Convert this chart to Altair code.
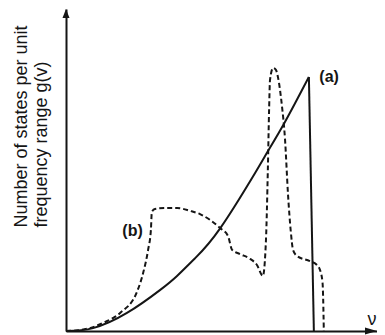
import altair as alt
import pandas as pd

# Curve (a): Debye-like curve, then vertical cut-off
a_nu = [0, 8.7, 19.6, 30.2, 35.7, 41.5, 49.5, 60.8, 64.9, 70.4, 78.1]
a_g = [0, 0.9, 5.6, 12.7, 17.1, 22.6, 31.8, 49.1, 55.8, 64.9, 78.9]
cut_nu = [78.1, 79.7]
cut_g = [78.9, 0]

# Curve (b): real crystal spectrum (dashed)
b_nu = [0, 4.5, 8.7, 11.9, 17.4, 22.8, 24.8, 26.4, 27.3, 27.6, 28.6, 31.8, 35.7,
        39.9, 43.1, 46.3, 49.5, 52.1, 53.4, 55.9, 59.2, 61.4, 63.3, 64.3, 64.9,
        65.3, 65.6, 66.6, 67.5, 68.2, 69.4, 70.4, 71.4, 72.3, 73.0, 74.3, 78.4,
        80.7, 81.7, 82.5, 82.7, 82.9]
b_g = [0, 0.3, 1.2, 2.5, 5.6, 12.1, 18.0, 25.2, 31.4, 37.0, 37.9, 38.2, 38.2,
       37.3, 36.3, 34.5, 32.0, 29.5, 25.2, 23.9, 22.4, 20.5, 17.1, 28.3, 50.0,
       68.6, 78.0, 81.7, 81.1, 78.6, 70.2, 59.9, 42.2, 30.7, 25.2, 23.3, 21.7,
       20.5, 18.9, 14.9, 9.6, 0]

label_text = ["(a)", "(b)"]
label_nu = [84.6, 21.4]
label_g = [78.9, 31.1]

axis_max = 100

df_a = pd.DataFrame({"nu": a_nu, "g": a_g})
df_cut = pd.DataFrame({"nu": cut_nu, "g": cut_g})
df_b = pd.DataFrame({"nu": b_nu, "g": b_g})
df_lab = pd.DataFrame({"t": label_text, "nu": label_nu, "g": label_g})
df_xarrow = pd.DataFrame({"nu": [axis_max], "g": [0]})
df_yarrow = pd.DataFrame({"nu": [0], "g": [axis_max]})

INK = "#151515"
xs = alt.Scale(domain=[0, axis_max], nice=False, zero=True)
ys = alt.Scale(domain=[0, axis_max], nice=False, zero=True)

x_axis = alt.Axis(labels=False, ticks=False, grid=False, domainColor=INK,
                  domainWidth=2, title="ν", titleFont="Liberation Sans",
                  titleFontSize=18, titleFontWeight="normal", titleColor=INK,
                  titleX=301, titleY=-12, titleAlign="left", titleBaseline="middle",
                  titleAngle=0)
y_axis = alt.Axis(labels=False, ticks=False, grid=False, domainColor=INK,
                  domainWidth=2,
                  title=["Number of states per unit", "frequency range g(v)"],
                  titleFont="Liberation Sans", titleFontSize=18,
                  titleFontWeight="normal", titleColor=INK, titleAngle=-90,
                  titleAlign="left", titleBaseline="alphabetic",
                  titleLineHeight=19.5, titleX=-39.5, titleY=218)

base_x = alt.X("nu:Q", scale=xs, axis=x_axis)
base_y = alt.Y("g:Q", scale=ys, axis=y_axis)

line_a = alt.Chart(df_a).mark_line(color=INK, strokeWidth=2, interpolate="natural").encode(
    x=base_x, y=base_y)
line_cut = alt.Chart(df_cut).mark_line(color=INK, strokeWidth=2).encode(
    x=alt.X("nu:Q", scale=xs), y=alt.Y("g:Q", scale=ys))
line_b = alt.Chart(df_b).mark_line(color=INK, strokeWidth=2, strokeDash=[5, 3],
                                   interpolate="monotone").encode(
    x=alt.X("nu:Q", scale=xs), y=alt.Y("g:Q", scale=ys))
labels = alt.Chart(df_lab).mark_text(font="Liberation Sans", fontSize=16,
                                     fontWeight="bold", color=INK).encode(
    x=alt.X("nu:Q", scale=xs), y=alt.Y("g:Q", scale=ys), text="t:N")
xarrow = alt.Chart(df_xarrow).mark_point(filled=True, opacity=1, color=INK, size=100,
                                         shape="M0,0 L-2.4,-0.7 L-2.4,0.7 Z").encode(
    x=alt.X("nu:Q", scale=xs), y=alt.Y("g:Q", scale=ys))
yarrow = alt.Chart(df_yarrow).mark_point(filled=True, opacity=1, color=INK, size=100,
                                         shape="M0,0 L0.7,1.8 L-0.7,1.8 Z").encode(
    x=alt.X("nu:Q", scale=xs), y=alt.Y("g:Q", scale=ys))

chart = alt.layer(line_a, line_cut, line_b, labels, xarrow, yarrow).properties(
    width=311, height=322, autosize="none",
    padding={"left": 58, "top": 1, "right": 0, "bottom": 4},
    background="white",
).configure_view(stroke=None)

chart.save("out.html", embed_options={"renderer": "svg", "actions": False})
